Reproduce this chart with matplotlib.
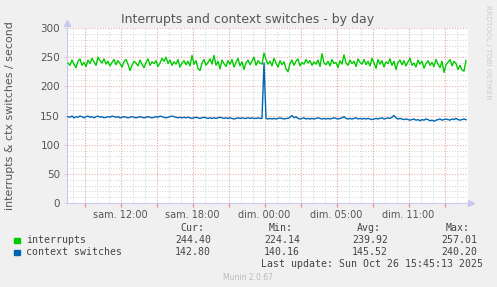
import matplotlib.pyplot as plt
from matplotlib.patches import Rectangle

W, H = 497, 287

# one value every 10 minutes (2 px in the munin day graph)
interrupts = [
    240, 236, 245, 238, 232, 243, 247, 236, 241, 234,
    245, 239, 248, 242, 236, 250, 244, 240, 247, 238,
    243, 235, 241, 246, 237, 244, 239, 233, 242, 246,
    238, 227, 236, 243, 240, 235, 245, 238, 232, 241,
    247, 236, 242, 239, 244, 234, 240, 248, 243, 250,
    239, 245, 236, 242, 238, 246, 233, 240, 244, 237,
    243, 235, 253, 238, 244, 231, 227, 240, 246, 236,
    241, 247, 238, 253, 236, 243, 230, 245, 239, 234,
    244, 238, 246, 233, 241, 248, 235, 242, 229, 240,
    245, 237, 243, 250, 236, 244, 240, 238, 257, 246,
    238, 243, 235, 248, 240, 233, 244, 237, 242, 230,
    225, 239, 245, 236, 243, 247, 235, 241, 238, 246,
    240, 244, 236, 242, 238, 245, 234, 256, 240, 237,
    243, 235, 246, 239, 241, 232, 244, 238, 254, 240,
    236, 245, 239, 243, 234, 247, 241, 238, 246, 237,
    243, 235, 248, 240, 231, 246, 238, 244, 233, 242,
    239, 247, 236, 243, 229, 241, 245, 237, 244, 235,
    242, 248, 236, 240, 233, 245, 238, 243, 231, 239,
    244, 236, 241, 234, 246, 238, 232, 243, 224, 237,
    241, 246, 235, 243, 239, 229, 236, 228, 226, 244.4,
]
context_switches = [
    148, 147, 149, 146, 148, 147, 149, 148, 146, 148,
    149, 147, 148, 146, 148, 149, 147, 148, 146, 147,
    148, 147, 149, 148, 147, 148, 146, 147, 148, 147,
    146, 147, 148, 147, 146, 147, 148, 147, 146, 147,
    148, 147, 146, 147, 148, 147, 149, 148, 147, 146,
    147, 148, 149, 148, 147, 146, 147, 146, 147, 146,
    147, 146, 145, 146, 147, 146, 145, 146, 147, 146,
    145, 146, 145, 146, 145, 146, 147, 146, 145, 146,
    145, 146, 145, 144, 145, 146, 145, 146, 145, 145,
    146, 145, 146, 145, 145, 146, 145, 145, 240.2, 145,
    144, 145, 144, 145, 144, 145, 146, 145, 144, 145,
    145, 147, 150, 146, 148, 145, 144, 145, 146, 144,
    145, 144, 145, 144, 145, 146, 145, 144, 145, 144,
    145, 144, 145, 146, 145, 144, 145, 146, 148, 145,
    144, 145, 144, 145, 146, 144, 145, 144, 145, 144,
    145, 144, 143, 144, 145, 144, 145, 146, 144, 145,
    146, 145, 147, 150, 146, 144, 145, 144, 143, 144,
    143, 142, 143, 144, 142, 143, 141, 143, 142, 144,
    143, 141, 142, 140.16, 142, 143, 144, 142, 143, 144,
    143, 142, 144, 143, 145, 143, 142, 143, 144, 142.8,
]
x_labels = ['sam. 12:00', 'sam. 18:00', 'dim. 00:00', 'dim. 05:00', 'dim. 11:00']
stat_heads = ['Cur:', 'Min:', 'Avg:', 'Max:']
stats = {
    'interrupts': ['244.40', '224.14', '239.92', '257.01'],
    'context switches': ['142.80', '140.16', '145.52', '240.20'],
}
colors = {'interrupts': '#00CC00', 'context switches': '#0066B3'}

BG = '#F0F0F0'
TXT = '#555555'
MAJOR = '#F2A8A8'
MINOR = '#D6D6D6'
AXIS = '#C8C8F0'

fig = plt.figure(figsize=(W / 100, H / 100), dpi=100, facecolor=BG)
ax = fig.add_axes([67 / W, (H - 203) / H, 401 / W, 175 / H])
ax.set_xlim(0, 401)
ax.set_ylim(0, 300)

xs = [2 * i + 1 for i in range(len(interrupts))]

# grid
dots = (0, (1, 1.6))
for m in range(34):
    xv = 5.5 + 12 * m
    if xv < 401:
        ax.axvline(xv, color=MINOR, lw=0.75, ls=dots, zorder=1)
majors = [17.5 + 36 * k for k in range(11)]
for xv in majors:
    ax.axvline(xv, color=MAJOR, lw=0.75, ls=dots, zorder=1.5)
for yv in range(10, 300, 10):
    if yv % 50:
        ax.axhline(yv, color=MINOR, lw=0.75, ls=dots, zorder=1)
for yv in range(50, 301, 50):
    ax.axhline(yv, color=MAJOR, lw=0.75, ls=dots, zorder=1.5)

ax.plot(xs, interrupts, color=colors['interrupts'], lw=1.0, zorder=3)
ax.plot(xs, context_switches, color=colors['context switches'], lw=1.0, zorder=4)

ax.set_xticks(majors)
ax.set_xticklabels([x_labels[k // 2] if k % 2 else '' for k in range(11)])
ax.set_yticks(range(0, 301, 50))
ax.tick_params(axis='x', colors='#EE8080', length=3, width=0.8, labelcolor=TXT,
               labelsize=7, pad=2)
ax.tick_params(axis='y', colors=MINOR, length=2, width=0.8, labelcolor=TXT,
               labelsize=7.5, pad=3)
for s in ['top', 'right']:
    ax.spines[s].set_visible(False)
for s in ['left', 'bottom']:
    ax.spines[s].set_color(AXIS)
    ax.spines[s].set_linewidth(0.8)
ax.plot([0], [309], marker='^', color=AXIS, ms=4, clip_on=False, zorder=5)
ax.plot([404], [0], marker='>', color=AXIS, ms=4, clip_on=False, zorder=5)

fig.text(10 / W, 1 - 116 / H, 'interrupts & ctx switches / second', rotation=90,
         ha='center', va='center', color=TXT, fontsize=7.9)
fig.text(248 / W, 1 - 19 / H, 'Interrupts and context switches - by day',
         ha='center', va='center', color=TXT, fontsize=9)
fig.text(488 / W, 1 - 5 / H, 'RRDTOOL / TOBI OETIKER', rotation=270,
         ha='center', va='top', color='#CCCCCC', fontsize=5.3)

# legend block
mono = dict(family='DejaVu Sans Mono', fontsize=7.1, color='#444444')
head_right = [204, 293, 381, 470]
val_right = [211, 300, 388, 477]
for h, xr in zip(stat_heads, head_right):
    fig.text(xr / W, 1 - 228 / H, h, ha='right', va='center', **mono)
for row, name in enumerate(['interrupts', 'context switches']):
    yc = 240 + 12 * row
    fig.patches.append(Rectangle((14 / W, 1 - (yc + 3) / H), 5.5 / W, 5.5 / H,
                                 transform=fig.transFigure, color=colors[name]))
    fig.text(26.5 / W, 1 - yc / H, name, ha='left', va='center', **mono)
    for v, xr in zip(stats[name], val_right):
        fig.text(xr / W, 1 - yc / H, v, ha='right', va='center', **mono)
fig.text(483 / W, 1 - 264 / H, 'Last update: Sun Oct 26 15:45:13 2025',
         ha='right', va='center', **mono)
fig.text(248 / W, 1 - 277 / H, 'Munin 2.0.67', ha='center', va='center',
         color='#BBBBBB', fontsize=5.5)

fig.savefig('out.png', dpi=100, facecolor=BG)
